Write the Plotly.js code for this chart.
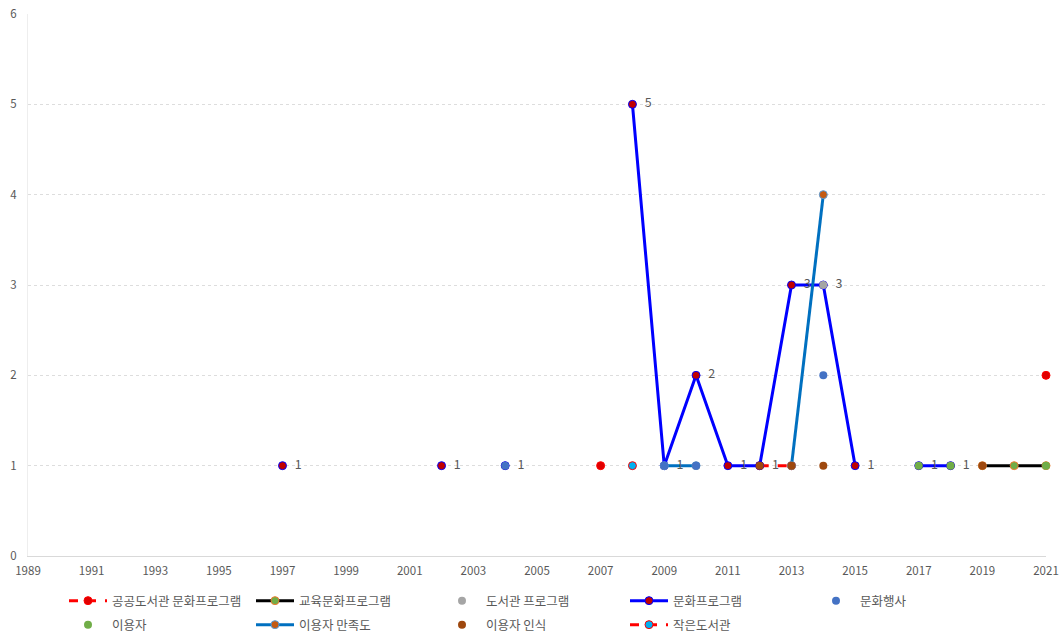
<!DOCTYPE html>
<html><head><meta charset="utf-8">
<script src="https://cdn.plot.ly/plotly-3.0.1.min.js"></script>
<style>html,body{margin:0;padding:0;background:#fff}#chart{width:1059px;height:633px}</style>
</head><body><div id="chart"></div>
<script>
// years 1997..2021 (null = no value)
const years = [1997,1998,1999,2000,2001,2002,2003,2004,2005,2006,2007,2008,2009,2010,2011,2012,2013,2014,2015,2016,2017,2018,2019,2020,2021];
const publicLibProgram = [null,null,null,null,null,null,null,null,null,null,1,null,null,null,null,1,1,null,null,null,null,null,null,null,2];
const eduCultureProgram = [null,null,null,null,null,null,null,null,null,null,null,null,null,null,null,null,null,null,null,null,null,null,1,1,1];
const libraryProgram = [null,null,null,null,null,null,null,null,null,null,null,null,null,null,null,null,null,3,null,null,null,null,null,null,null];
const cultureProgram = [1,null,null,null,null,1,null,1,null,null,null,5,1,2,1,1,3,3,1,null,1,1,null,null,null];
const cultureEvent = [null,null,null,null,null,null,null,1,null,null,null,null,1,1,null,null,null,2,null,null,null,null,null,null,null];
const users = [null,null,null,null,null,null,null,null,null,null,null,null,null,null,null,null,null,null,null,null,1,1,null,null,1];
const userSatisfaction = [null,null,null,null,null,null,null,null,null,null,null,null,1,1,null,null,1,4,null,null,null,null,null,null,null];
const userPerception = [null,null,null,null,null,null,null,null,null,null,null,null,null,null,null,1,1,1,null,null,null,null,1,null,null];
const smallLibrary = [null,null,null,null,null,null,null,null,null,null,null,1,null,null,null,null,null,null,null,null,null,null,null,null,null];
const seriesNames = ['공공도서관 문화프로그램','교육문화프로그램','도서관 프로그램','문화프로그램','문화행사','이용자','이용자 만족도','이용자 인식','작은도서관'];
const xTicks = [1989,1991,1993,1995,1997,1999,2001,2003,2005,2007,2009,2011,2013,2015,2017,2019,2021];

const F = '"Noto Sans CJK KR","Noto Sans",sans-serif';
const MS = 8;
function lineTrace(y, name, rank, lg, lineColor, dash, mFill, mLine) {
  return {
    x: years, y: y, name: name, legendrank: rank, legend: lg, type: 'scatter', mode: 'lines+markers',
    connectgaps: false, cliponaxis: false,
    line: {color: lineColor, width: 3, dash: dash},
    marker: {size: MS, color: mFill, line: {color: mLine, width: 1}}
  };
}
function markerTrace(y, name, rank, lg, color) {
  return {x: years, y: y, name: name, legendrank: rank, legend: lg, type: 'scatter', mode: 'markers',
    cliponaxis: false, marker: {size: MS, color: color, line: {width: 0}}};
}
const cultureLabels = cultureProgram.map(v => v === null ? '' : String(v));

const traces = [
  lineTrace(publicLibProgram, seriesNames[0], 1, 'legend', '#FF0000', 'dash', '#E00000', '#FF0000'),
  lineTrace(eduCultureProgram, seriesNames[1], 2, 'legend', '#000000', 'solid', '#70AD47', '#ED7D31'),
  lineTrace(cultureProgram, seriesNames[3], 4, 'legend', '#0000FF', 'solid', '#C00000', '#0000FF'),
  lineTrace(userSatisfaction, seriesNames[6], 7, 'legend2', '#0070C0', 'solid', '#C55A11', '#5B9BD5'),
  lineTrace(smallLibrary, seriesNames[8], 9, 'legend2', '#FF0000', 'dash', '#00B0F0', '#FF0000'),
  markerTrace(libraryProgram, seriesNames[2], 3, 'legend', '#A5A5A5'),
  markerTrace(cultureEvent, seriesNames[4], 5, 'legend', '#4472C4'),
  markerTrace(users, seriesNames[5], 6, 'legend2', '#70AD47'),
  markerTrace(userPerception, seriesNames[7], 8, 'legend2', '#9E480E'),
  // data labels of 문화프로그램
  {x: years, y: cultureProgram, type: 'scatter', mode: 'markers+text', showlegend: false,
   cliponaxis: false, text: cultureLabels, textposition: 'middle right',
   marker: {size: 18, opacity: 0}, textfont: {family: F, size: 12.5, color: '#595959'}}
];

const legendBase = {
  orientation: 'h', xref: 'container', yref: 'container', xanchor: 'left', yanchor: 'middle',
  entrywidth: 134, entrywidthmode: 'pixels', traceorder: 'normal',
  font: {family: F, size: 12.5, color: '#595959'}, itemwidth: 38, bgcolor: 'rgba(0,0,0,0)'
};

const layout = {
  width: 1059, height: 633,
  margin: {l: 28, r: 13, t: 14, b: 77},
  paper_bgcolor: '#fff', plot_bgcolor: '#fff',
  font: {family: F, size: 12, color: '#595959'},
  showlegend: true,
  xaxis: {
    range: [1989, 2021], tickvals: xTicks, ticktext: xTicks.map(String),
    showgrid: false, zeroline: false, showline: true, linecolor: '#D9D9D9', linewidth: 1,
    ticks: '', ticklabelstandoff: 4, tickfont: {family: F, size: 11.5, color: '#595959'}
  },
  yaxis: {
    range: [0, 6], dtick: 1, tick0: 0,
    showgrid: true, gridcolor: '#DDDDDD', griddash: 'dot', gridwidth: 1,
    zeroline: false, showline: true, linecolor: '#EEEEEE', linewidth: 1,
    ticks: '', ticklabelstandoff: 8, tickfont: {family: F, size: 11.5, color: '#595959'}
  },
  legend: Object.assign({}, legendBase, {x: 64/1059, y: 1 - 601/633}),
  legend2: Object.assign({}, legendBase, {x: 64/1059, y: 1 - 625/633})
};
Plotly.newPlot('chart', traces, layout, {displayModeBar: false, staticPlot: true});
</script></body></html>
